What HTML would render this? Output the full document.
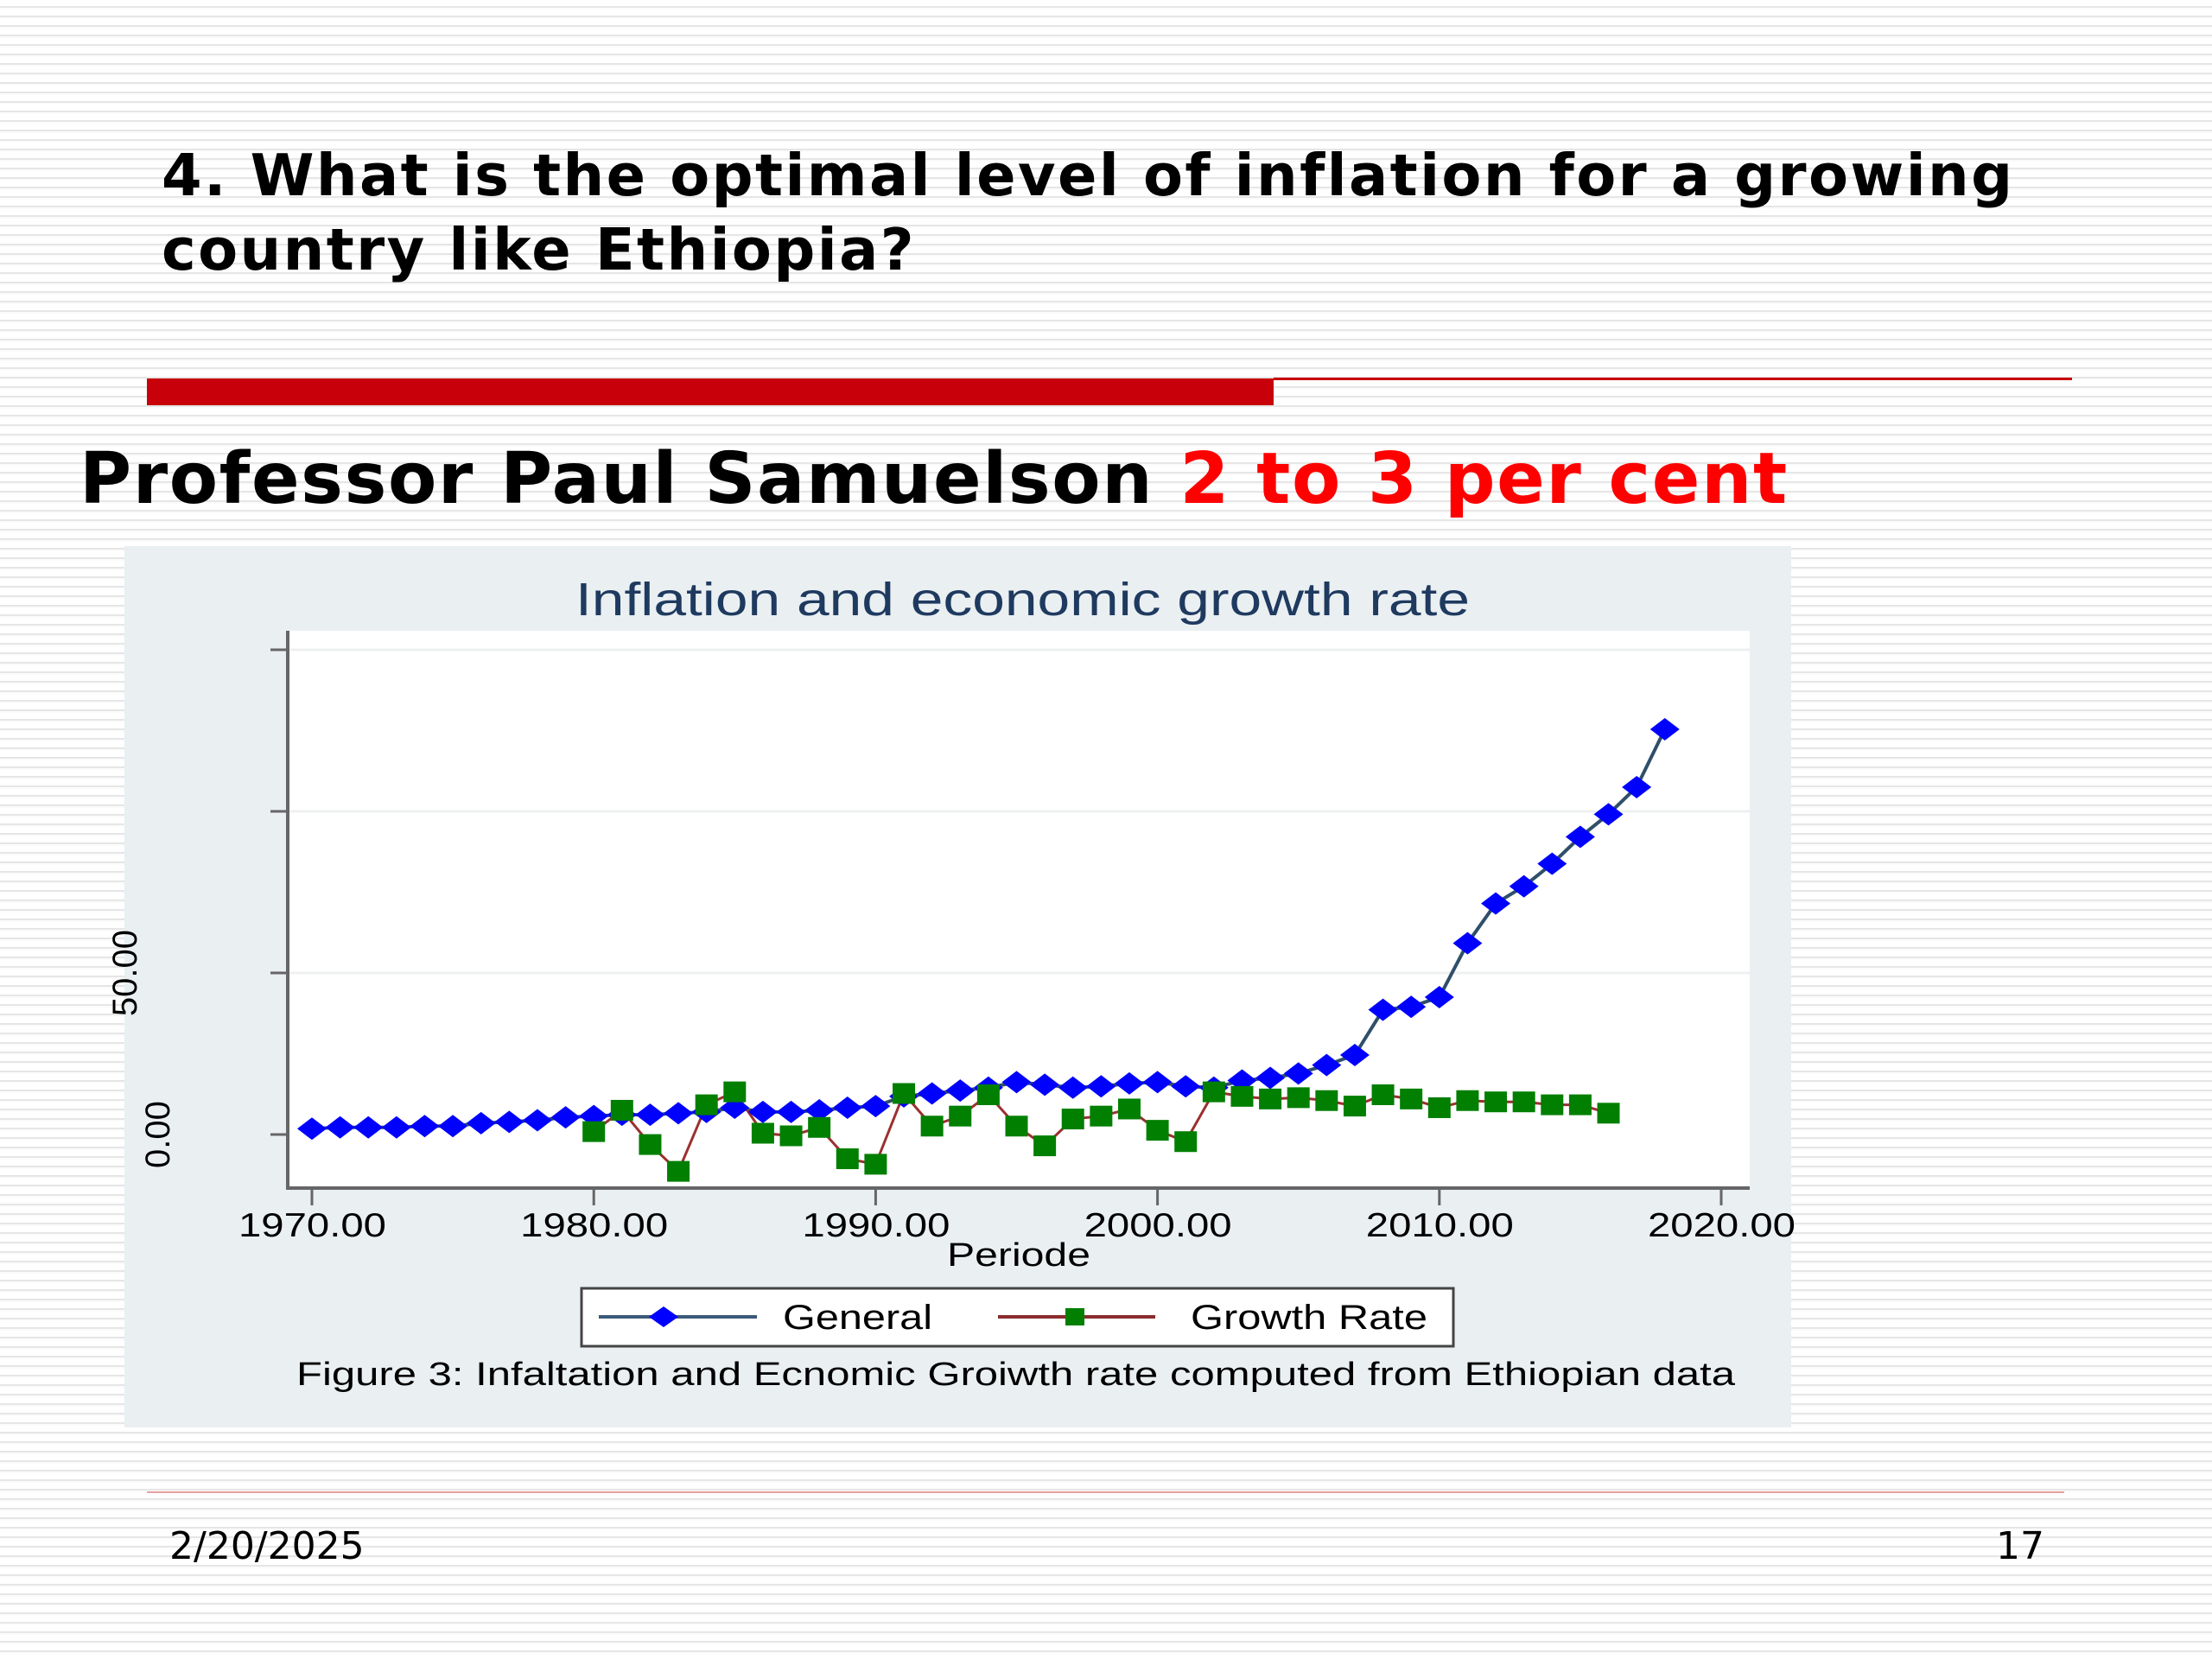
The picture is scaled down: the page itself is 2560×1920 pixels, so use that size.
<!DOCTYPE html>
<html><head><meta charset="utf-8">
<style>
html,body{margin:0;padding:0;}
body{width:2560px;height:1920px;position:relative;overflow:hidden;font-family:"Liberation Sans",sans-serif;
background:repeating-linear-gradient(to bottom,#ffffff 0px,#ffffff 7px,#e6e6e6 7px,#e6e6e6 9px,#fbfbfb 9px,#fbfbfb 11px);}
.abs{position:absolute;}
</style></head>
<body>
<div class="abs" style="left:187px;top:160px;font-family:'DejaVu Sans',sans-serif;font-weight:bold;font-size:67px;line-height:86px;letter-spacing:2.4px;color:#000;width:2300px;">4. What is the optimal level of inflation for a growing<br>country like Ethiopia?</div>
<div class="abs" style="left:170px;top:438px;width:1304px;height:31px;background:#c8000a;"></div>
<div class="abs" style="left:1474px;top:437px;width:924px;height:3px;background:#c8000a;"></div>
<div class="abs" style="left:92px;top:505px;font-family:'DejaVu Sans',sans-serif;font-weight:bold;font-size:82px;line-height:100px;letter-spacing:1.6px;color:#000;white-space:nowrap;">Professor Paul Samuelson <span style="color:#ff0000;">2 to 3 per cent</span></div>

<svg class="abs" style="left:0;top:0;" width="2560" height="1920" id="chart">
<rect x="144" y="632" width="1929" height="1020" fill="#eaeff2"/>
<rect x="333" y="730" width="1692" height="645" fill="#ffffff"/>
<text x="666" y="712" textLength="1035" lengthAdjust="spacingAndGlyphs" font-size="54" fill="#1f3a5f" font-family="Liberation Sans, sans-serif">Inflation and economic growth rate</text>
<g id="grid"></g>
<g id="axes"></g>
<g id="series"></g>
<text x="1096" y="1465" textLength="166" lengthAdjust="spacingAndGlyphs" font-size="38" fill="#000">Periode</text>
<rect x="673" y="1491" width="1009" height="67" fill="#fff" stroke="#444" stroke-width="3"/>
<line x1="693" y1="1524" x2="876" y2="1524" stroke="#3b5a78" stroke-width="4"/>
<polygon points="768,1512 785,1524 768,1536 751,1524" fill="#0000ff"/>
<text x="906" y="1538" textLength="173" lengthAdjust="spacingAndGlyphs" font-size="40" fill="#000">General</text>
<line x1="1155" y1="1524" x2="1337" y2="1524" stroke="#8b2c2c" stroke-width="4"/>
<rect x="1233" y="1514" width="22" height="20" fill="#007f00"/>
<text x="1378" y="1538" textLength="274" lengthAdjust="spacingAndGlyphs" font-size="40" fill="#000">Growth Rate</text>
<text x="343" y="1603" textLength="1665" lengthAdjust="spacingAndGlyphs" font-size="38" fill="#000">Figure 3: Infaltation and Ecnomic Groiwth rate computed from Ethiopian data</text>
</svg>

<div class="abs" style="left:170px;top:1726px;width:2219px;height:2px;background:#e8a0a0;"></div>
<div class="abs" style="left:196px;top:1764px;font-size:44px;color:#000;font-family:'DejaVu Sans',sans-serif;">2/20/2025</div>
<div class="abs" style="left:2310px;top:1764px;font-size:44px;color:#000;font-family:'DejaVu Sans',sans-serif;">17</div>

<script>
const years = [];
for (let y = 1970; y <= 2018; y++) years.push(y);
const generalValues = [1.8,2.2,2.2,2.2,2.6,2.6,3.5,3.9,4.4,5.3,5.7,6.1,6.1,6.6,7.0,8.3,7.0,7.0,7.5,8.3,8.8,11.8,12.7,13.6,14.5,16.2,15.4,14.5,14.9,15.8,16.2,14.9,14.5,16.7,17.5,18.9,21.5,24.6,38.6,39.5,42.5,59.2,71.5,76.8,83.8,92.1,99.1,107.5,125.4];
const growthYears = [];
for (let y = 1980; y <= 2016; y++) growthYears.push(y);
const growthValues = [0.9,7.5,-3.1,-11.4,9.2,13.2,0.4,-0.4,2.2,-7.5,-9.2,12.7,2.6,5.7,12.3,2.6,-3.5,4.8,5.7,7.9,1.3,-2.2,13.2,11.8,11.0,11.4,10.5,8.8,12.3,11.0,8.3,10.5,10.1,10.1,9.2,9.2,6.6];
const xTicks = [1970,1980,1990,2000,2010,2020];
const xTickLabels = ["1970.00","1980.00","1990.00","2000.00","2010.00","2020.00"];
const yTicks = [0,50,100,150];
const yTickLabels = ["0.00","50.00","",""];

const NS = "http://www.w3.org/2000/svg";
const xS = v => 361 + (v - 1970) * (1992 - 361) / 50;
const yS = v => 1313 - v * 187 / 50;
function mk(tag, attrs, parent) {
  const e = document.createElementNS(NS, tag);
  for (const k in attrs) e.setAttribute(k, attrs[k]);
  parent.appendChild(e);
  return e;
}
const grid = document.getElementById('grid');
const axes = document.getElementById('axes');
const series = document.getElementById('series');

yTicks.forEach((t, i) => {
  if (t > 0) {
    const g = mk('line', {x1: 335, x2: 2025, y1: yS(t), y2: yS(t), stroke: '#eef0f2', 'stroke-width': 3}, grid);
    
    
  }
  const tk = mk('line', {x1: 313, x2: 333, y1: yS(t), y2: yS(t), stroke: '#666', 'stroke-width': 3}, axes);
  
  
  if (yTickLabels[i]) {
    const lx = t === 0 ? 196 : 158;
    const lb = mk('text', {x: lx, y: yS(t), 'text-anchor': 'middle', 'font-size': 40, fill: '#000', transform: `rotate(-90 ${lx} ${yS(t)})`}, axes);
    lb.textContent = yTickLabels[i];
    
    
  }
});
const ya = mk('line', {x1: 333, x2: 333, y1: 730, y2: 1376, stroke: '#666', 'stroke-width': 4}, axes);


const xa = mk('line', {x1: 331, x2: 2025, y1: 1375, y2: 1375, stroke: '#666', 'stroke-width': 4}, axes);


xTicks.forEach((t, i) => {
  const tk = mk('line', {x1: xS(t), x2: xS(t), y1: 1375, y2: 1395, stroke: '#666', 'stroke-width': 3}, axes);
  
  
  const lb = mk('text', {x: xS(t) - 85, y: 1431, textLength: 171, lengthAdjust: 'spacingAndGlyphs', 'font-size': 39, fill: '#000'}, axes);
  lb.textContent = xTickLabels[i];
  
  
});

const gp = mk('polyline', {points: years.map((y, i) => xS(y) + ',' + yS(generalValues[i])).join(' '), fill: 'none', stroke: '#2f4f6a', 'stroke-width': 4}, series);


const rp = mk('polyline', {points: growthYears.map((y, i) => xS(y) + ',' + yS(growthValues[i])).join(' '), fill: 'none', stroke: '#9b3030', 'stroke-width': 3}, series);


years.forEach((y, i) => {
  const cx = xS(y), cy = yS(generalValues[i]);
  const d = mk('polygon', {points: `${cx},${cy-13} ${cx+17},${cy} ${cx},${cy+13} ${cx-17},${cy}`, fill: '#0000ff'}, series);
  
  
});
growthYears.forEach((y, i) => {
  const cx = xS(y), cy = yS(growthValues[i]);
  const r = mk('rect', {x: cx - 13, y: cy - 12, width: 26, height: 24, fill: '#007f00'}, series);
  
  
});
</script>
</body></html>
